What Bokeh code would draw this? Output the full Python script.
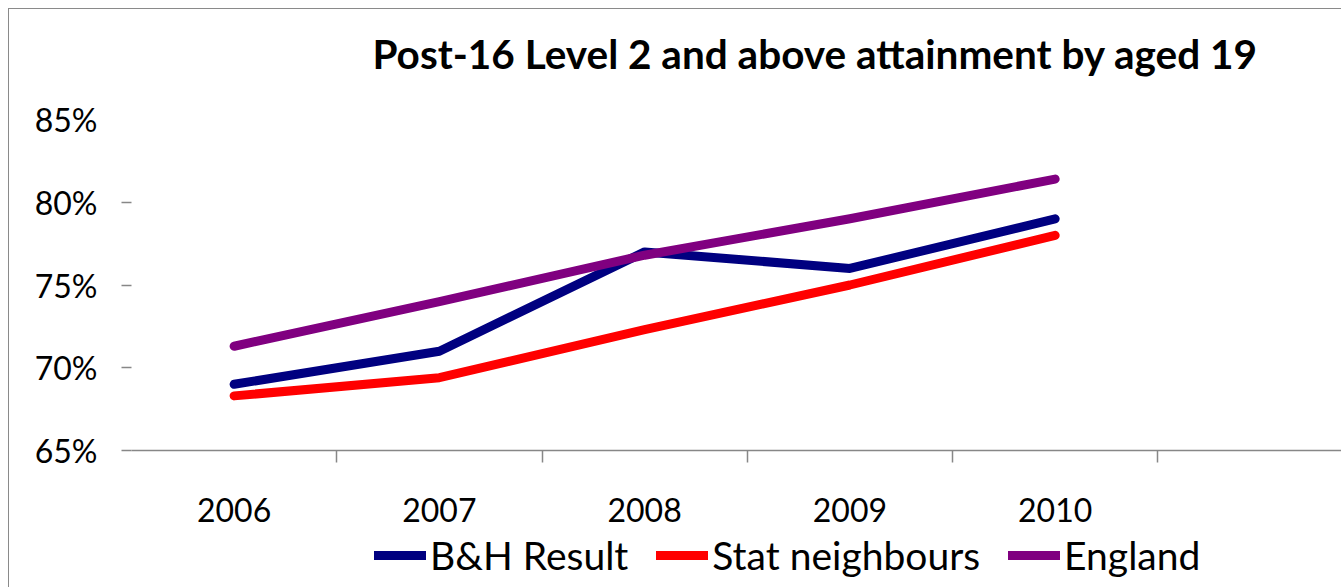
import numpy as np
from bokeh.plotting import figure
from bokeh.layouts import row, column
from bokeh.models import (Range1d, FixedTicker, LinearAxis, Legend, LegendItem,
                          CustomJSTickFormatter, Spacer)
from bokeh.embed import file_html
from bokeh.resources import INLINE

# ---------------- data ----------------
title_text = "Post-16 Level 2 and above attainment by aged 19"
years = ["2006", "2007", "2008", "2009", "2010"]
bh_result = [69.0, 71.0, 77.0, 76.0, 79.0]
stat_neighbours = [68.3, 69.4, 72.3, 75.0, 78.0]
england = [71.3, 74.0, 76.8, 79.0, 81.4]
y_ticks = [65, 70, 75, 80, 85]
y_tick_labels = ["65%", "70%", "75%", "80%", "85%"]
series_names = ["B&H Result", "Stat neighbours", "England"]
series_values = [bh_result, stat_neighbours, england]
series_colors = ["#000080", "#FF0000", "#800080"]

# ---------------- styling ----------------
FONT = "Lato"
GRID = "#878787"
BORDER = "1px solid #8a8a8a"
LINE_W = 9
W = 1333
n = len(years)
xs = np.arange(n) + 0.5  # category centres


def blank_fig(height, **kw):
    f = figure(width=W, height=height, output_backend="svg", toolbar_location=None,
               x_range=Range1d(0, 1), y_range=Range1d(0, 1),
               x_axis_type=None, y_axis_type=None,
               min_border_left=0, min_border_right=0, min_border_bottom=0, **kw)
    f.outline_line_color = None
    f.background_fill_color = "white"
    f.border_fill_color = "white"
    f.xgrid.visible = False
    f.ygrid.visible = False
    return f


# ---------------- title strip ----------------
tf = blank_fig(90, min_border_top=78)
tf.styles = {"border-left": BORDER, "border-top": BORDER}
tf.title.text = title_text
tf.title.align = "left"
tf.title.vertical_align = "bottom"
tf.title.offset = 241
tf.title.standoff = 20
tf.title.text_font = FONT
tf.title.text_font_size = "40.5px"
tf.title.text_font_style = "bold"
tf.title.text_color = "black"

# ---------------- main chart ----------------
p = figure(width=W, height=432, output_backend="svg", toolbar_location=None,
           x_range=Range1d(0, n + 0.9), y_range=Range1d(y_ticks[0], y_ticks[-1]),
           x_axis_type=None, y_axis_type=None,
           min_border_left=122, min_border_right=0, min_border_top=21,
           min_border_bottom=80)
p.styles = {"border-left": BORDER}
p.outline_line_color = None
p.background_fill_color = "white"
p.border_fill_color = "white"

blank = CustomJSTickFormatter(code="return ''")

ytick_ax = LinearAxis(ticker=FixedTicker(ticks=y_ticks[:-1]), formatter=blank,
                      axis_line_color=None, major_tick_in=0, major_tick_out=10,
                      major_tick_line_color=GRID, major_tick_line_width=1.5,
                      minor_tick_line_color=None, major_label_text_font_size="1px",
                      major_label_standoff=0)
ylab_ax = LinearAxis(ticker=FixedTicker(ticks=y_ticks),
                     major_label_overrides={t: l for t, l in zip(y_ticks, y_tick_labels)},
                     axis_line_color=None, major_tick_in=0, major_tick_out=0,
                     major_tick_line_color=None, minor_tick_line_color=None,
                     major_label_standoff=24, major_label_text_font=FONT,
                     major_label_text_font_size="32px", major_label_text_color="black")
p.add_layout(ytick_ax, "left")
p.add_layout(ylab_ax, "left")

xtick_ax = LinearAxis(ticker=FixedTicker(ticks=list(range(1, n + 1))), formatter=blank,
                      axis_line_color=GRID, axis_line_width=1.5, major_tick_in=0,
                      major_tick_out=12, major_tick_line_color=GRID,
                      major_tick_line_width=1.5, minor_tick_line_color=None,
                      major_label_text_font_size="1px", major_label_standoff=0)
xlab_ax = LinearAxis(ticker=FixedTicker(ticks=[float(v) for v in xs]),
                     major_label_overrides={float(v): y for v, y in zip(xs, years)},
                     axis_line_color=None, major_tick_in=0, major_tick_out=0,
                     major_tick_line_color=None, minor_tick_line_color=None,
                     major_label_standoff=35, major_label_text_font=FONT,
                     major_label_text_font_size="32px", major_label_text_color="black")
p.add_layout(xtick_ax, "below")
p.add_layout(xlab_ax, "below")

p.ygrid.ticker = FixedTicker(ticks=y_ticks[1:-1])
p.ygrid.grid_line_color = GRID
p.ygrid.grid_line_width = 1.5
p.xgrid.visible = False

for vals, col in zip(series_values, series_colors):
    p.line(xs, vals, line_color=col, line_width=LINE_W, line_cap="round",
           line_join="round")

# ---------------- legend strip ----------------
lf = blank_fig(57, min_border_top=0)
lf.styles = {"border-left": BORDER}

items = []
for name, vals, col in zip(series_names, series_values, series_colors):
    key = lf.line(xs, vals, line_color=col, line_width=LINE_W, line_cap="round",
                  visible=False)
    items.append(LegendItem(label=name, renderers=[key]))

legend = Legend(items=items, orientation="horizontal", location=(243, 9),
                padding=0, margin=0, spacing=28, label_standoff=4,
                glyph_width=52, glyph_height=26,
                label_text_font=FONT, label_text_font_size="39px",
                label_text_color="black", inactive_fill_alpha=0,
                border_line_color=None, background_fill_alpha=0)
lf.add_layout(legend, "center")

layout = row(Spacer(width=8, height=588),
             column(Spacer(width=W, height=8), tf, p, lf))
open("out.html", "w").write(file_html(layout, INLINE))
